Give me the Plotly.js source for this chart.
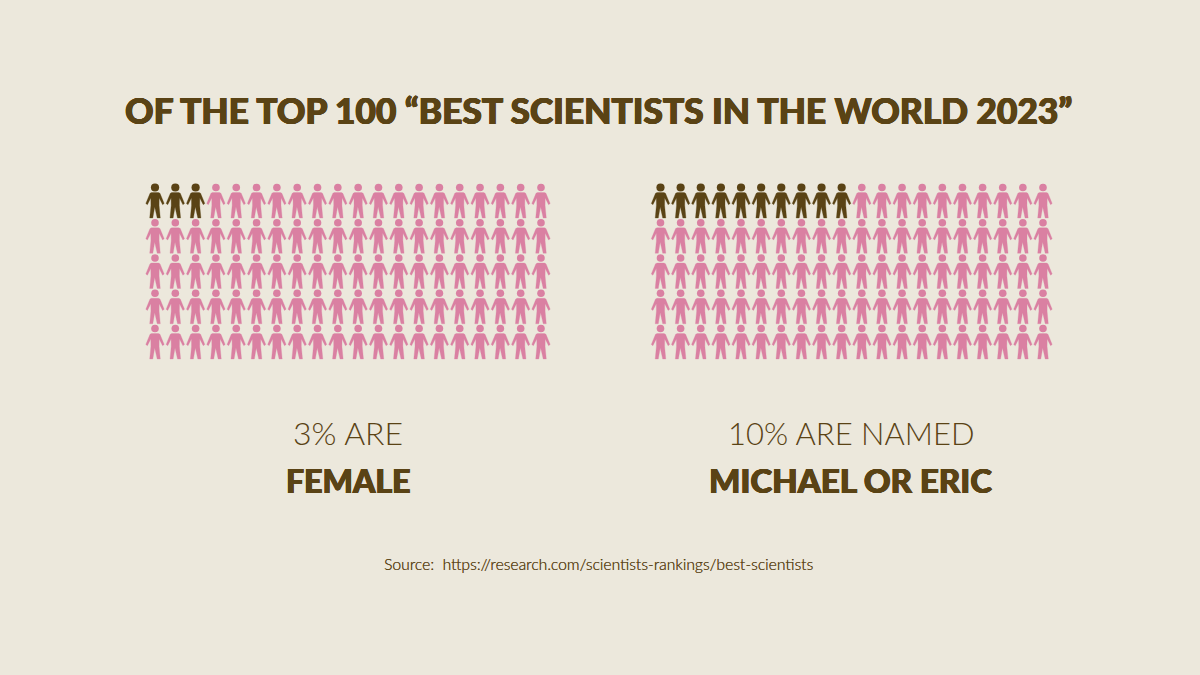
<!DOCTYPE html>
<html><head><meta charset="utf-8">
<script src="https://cdn.plot.ly/plotly-3.0.1.min.js"></script>
<style>html,body{margin:0;padding:0;background:#ECE8DC}#c{width:1200px;height:675px}</style>
</head><body><div id="c"></div>
<script>
const titleText = "OF THE TOP 100 “BEST SCIENTISTS IN THE WORLD 2023”";
const sourceText = "Source:  https://research.com/scientists-rankings/best-scientists";
const panelLines = ["3% ARE", "10% ARE NAMED"];
const panelBold = ["FEMALE", "MICHAEL OR ERIC"];
const highlighted = [3, 10];
const columns = 20;
const rows = 5;
const BG = "#ECE8DC", BROWN = "#5A4315", PINK = "#DA80A2";

// person glyph outline, relative to head centre, in px
const gx = [0,3.5,5,9.2,7.6,4.2,4.1,5.3,2.2,0.3,-0.3,-2.2,-5.3,-4.1,-4.2,-7.6,-9.2,-5,-3.5,0];
const gy = [5,5,5.8,16,17.2,10.5,18,30.5,30.5,19.5,19.5,30.5,30.5,18,10.5,17.2,16,5.8,5,5];

// panel geometry in px: head centres
const panels = [
  {x0:155, x1:541, y0:187.5, y1:328.5},
  {x0:660.5, x1:1043, y0:187.5, y1:328.5}
];
const W = 1200, H = 675;

const traces = [], layout = {
  width:W, height:H, margin:{l:0,r:0,t:0,b:0}, paper_bgcolor:BG, plot_bgcolor:BG,
  showlegend:false, hovermode:false, annotations:[]
};

panels.forEach((p,i)=>{
  const sx = (p.x1-p.x0)/(columns-1), sy = (p.y1-p.y0)/(rows-1);
  const suf = i===0 ? "" : "2";
  const px0 = p.x0-15, px1 = p.x1+15, py0 = p.y0-10, py1 = p.y1+40;
  layout["xaxis"+suf] = {domain:[px0/W,px1/W], range:[(px0-p.x0)/sx,(px1-p.x0)/sx], visible:false, fixedrange:true, anchor:"y"+suf};
  layout["yaxis"+suf] = {domain:[1-py1/H,1-py0/H], range:[(py1-p.y0)/sy,(py0-p.y0)/sy], visible:false, fixedrange:true, anchor:"x"+suf};
  [[0,highlighted[i],BROWN,8.2],[highlighted[i],columns*rows,PINK,7.6]].forEach(([a,b,col,head])=>{
    const hx=[],hy=[],bx=[],by=[];
    for(let k=a;k<b;k++){
      const c=k%columns, r=Math.floor(k/columns);
      hx.push(c); hy.push(r);
      gx.forEach((g,j)=>{bx.push(c+g/sx); by.push(r+gy[j]/sy);});
      bx.push(null); by.push(null);
    }
    traces.push({type:"scatter",mode:"lines",x:bx,y:by,fill:"toself",fillcolor:col,line:{color:col,width:0.3},xaxis:"x"+suf,yaxis:"y"+suf,hoverinfo:"skip"});
    traces.push({type:"scatter",mode:"markers",x:hx,y:hy,marker:{color:col,size:head,line:{width:0}},xaxis:"x"+suf,yaxis:"y"+suf,hoverinfo:"skip"});
  });
});

const heavy = "0.6px 0 0 #5A4315, -0.6px 0 0 #5A4315, 0 0.4px 0 #5A4315, 0 -0.4px 0 #5A4315";
function note(text,cx,cy,size,color,family,weight,shadow){
  const font = {size,color,family,weight};
  if(shadow) font.shadow = shadow;
  layout.annotations.push({text,xref:"paper",yref:"paper",x:cx/W,y:1-cy/H,xanchor:"center",yanchor:"middle",showarrow:false,font});
}
note(titleText,598,111,35.3,BROWN,"Lato",900,heavy);
note(panelLines[0],348,433,32,BROWN,"Lato",300);
note(panelLines[1],851,433,31,BROWN,"Lato",300);
note(panelBold[0],348,480,32,BROWN,"Lato",900,heavy);
note(panelBold[1],851,480,33,BROWN,"Lato",900,heavy);
note(sourceText,598,564,15.7,BROWN,"Lato",300,"0.2px 0 0 #5A4315");

Plotly.newPlot("c",traces,layout,{staticPlot:true,displayModeBar:false});
</script></body></html>
